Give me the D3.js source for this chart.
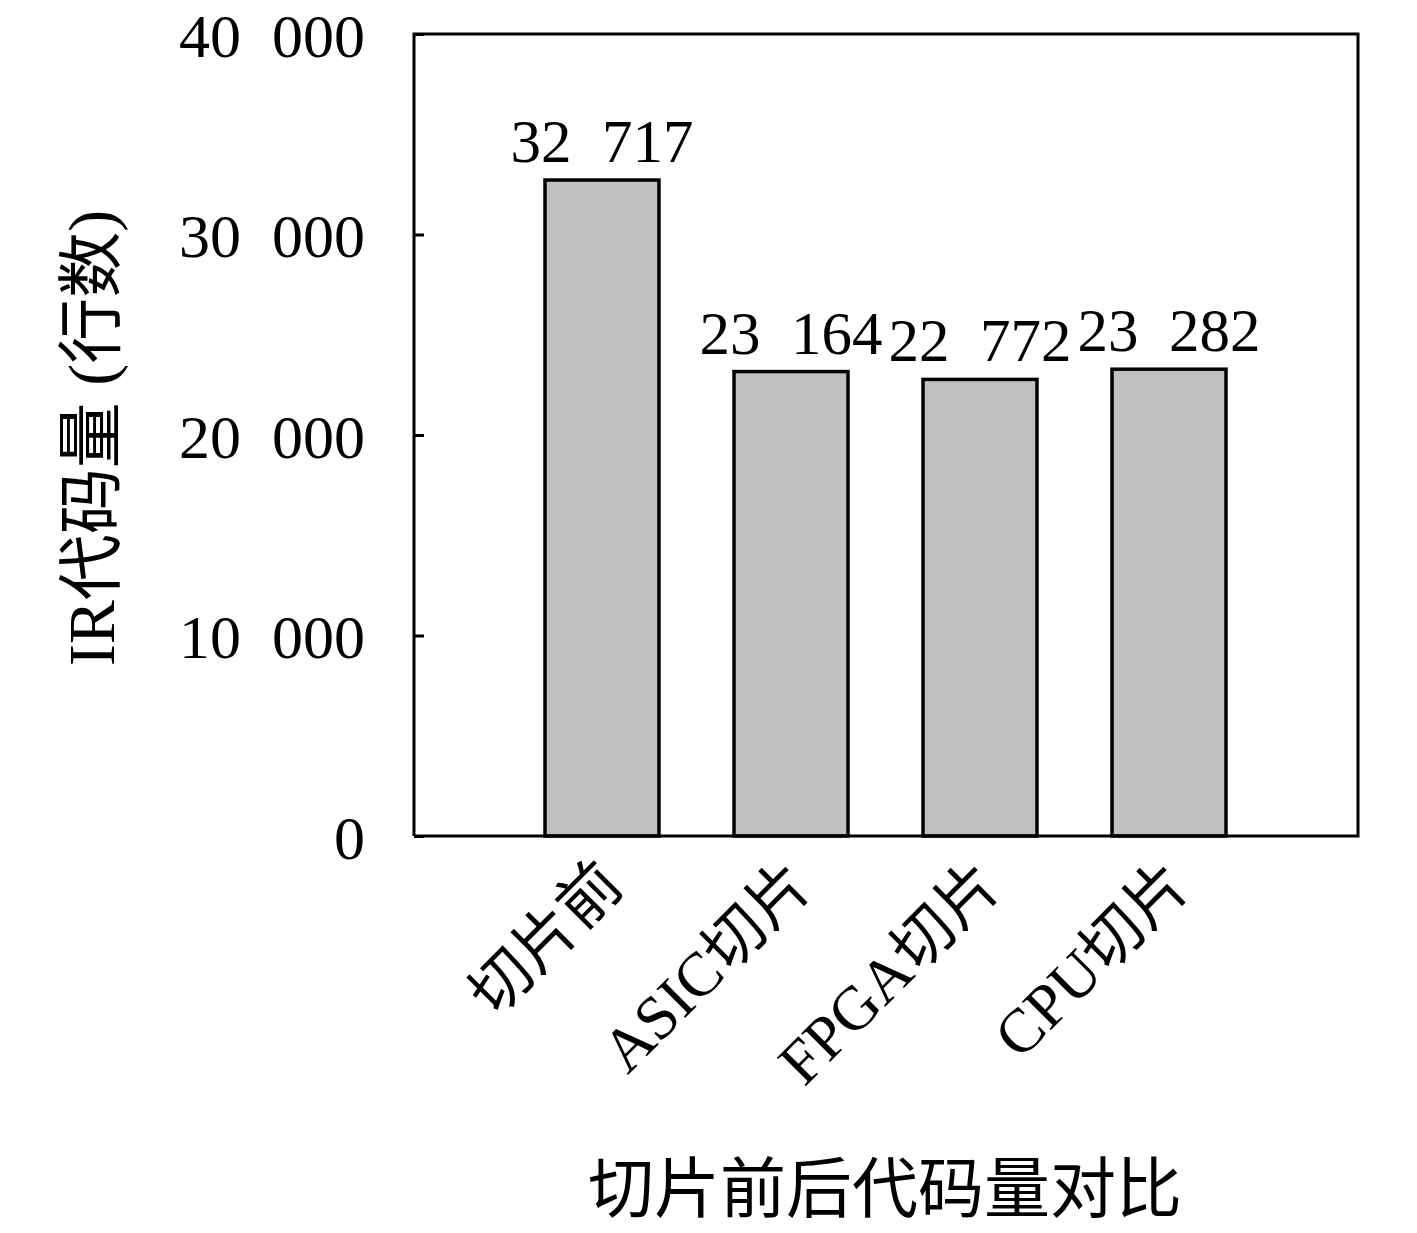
<!DOCTYPE html>
<html>
<head>
<meta charset="utf-8">
<script src="https://d3js.org/d3.v7.min.js"></script>
<style>
  body { margin: 0; background: #fff; }
  .num { font-family: "Liberation Serif", "DejaVu Serif", serif; }
  .cjk { font-family: "Noto Sans CJK SC", sans-serif; }
</style>
</head>
<body>
<svg class="target"></svg>
<script>

// data
categories = ['切片前', 'ASIC切片', 'FPGA切片', 'CPU切片']
values = [32717, 23164, 22772, 23282]
yTicks = [0, 10000, 20000, 30000, 40000]

width = 1417
height = 1233

margin = ({ top: 34, right: 59, bottom: 397, left: 414 })

svg = d3.select('.target')
      .attr('width', width)
      .attr('height', height)

// wide thousands separator like the original
fmt = v => {
  s = String(v)
  return s.length > 3 ? s.slice(0, -3) + '\u2002' + s.slice(-3) : s
}

x = d3.scaleBand()
    .domain(categories)
    .range([450.5, 1320.5])
    .paddingInner(0.397)
    .paddingOuter(0.5)

y = d3.scaleLinear()
    .domain([0, 40000])
    .range([height - margin.bottom, margin.top])

// bars
svg.selectAll('rect.bar')
  .data(values)
  .join('rect')
    .attr('class', 'bar')
    .attr('x', (d, i) => x(categories[i]))
    .attr('y', d => y(d))
    .attr('width', x.bandwidth())
    .attr('height', d => y(0) - y(d))
    .style('fill', '#c0c0c0')
    .style('stroke', '#000')
    .style('stroke-width', 3.5)

// value labels
svg.selectAll('text.val')
  .data(values)
  .join('text')
    .attr('class', 'val num')
    .attr('x', (d, i) => x(categories[i]) + x.bandwidth() / 2)
    .attr('y', d => y(d) - 18)
    .attr('text-anchor', 'middle')
    .style('font-size', '61px')
    .text(d => fmt(d))

// frame: left, top, right, bottom
x0 = margin.left, x1 = width - margin.right
svg.append('path')
    .attr('d', `M${x0},${y(0)}V${y(40000)}H${x1}V${y(0)}H${x0}`)
    .style('fill', 'none')
    .style('stroke', '#000')
    .style('stroke-width', 3)

// y axis ticks (inward) and labels
yAxis = d3.axisLeft(y)
    .tickValues(yTicks)
    .tickSize(-10)
    .tickPadding(49)
    .tickFormat(d => fmt(d))

gy = svg.append('g')
    .attr('transform', `translate(${x0},0)`)
    .call(yAxis)
gy.select('.domain').remove()
gy.selectAll('line').style('stroke', '#000').style('stroke-width', 3)
gy.selectAll('text')
    .attr('dy', '0.36em')
    .style('font-family', '"Liberation Serif", serif')
    .style('font-size', '62px')
    .style('fill', '#000')

// x tick labels, rotated
svg.selectAll('text.xl')
  .data(categories)
  .join('text')
    .attr('class', 'xl')
    .attr('text-anchor', 'end')
    .attr('transform', d => `translate(${x(d) + x.bandwidth() / 2 + 24},${y(0) + 52}) rotate(-45)`)
    .style('font-size', '62px')
    .each(function(d) {
      t = d3.select(this)
      parts = d.match(/[A-Za-z]+|[^A-Za-z]+/g)
      parts.forEach(p => {
        t.append('tspan')
          .attr('class', /[A-Za-z]/.test(p) ? 'num' : 'cjk')
          .text(p)
      })
    })

// y axis title
ylab = svg.append('text')
    .attr('transform', `translate(114,438) rotate(-90)`)
    .attr('text-anchor', 'middle')
    .style('font-size', '66px')
ylab.append('tspan').attr('class', 'num').text('IR')
ylab.append('tspan').attr('class', 'cjk').text('代码量')
ylab.append('tspan').attr('class', 'num').text(' (')
ylab.append('tspan').attr('class', 'cjk').text('行数')
ylab.append('tspan').attr('class', 'num').text(')')

// x axis title
svg.append('text')
    .attr('class', 'cjk')
    .attr('x', 885)
    .attr('y', 1212)
    .attr('text-anchor', 'middle')
    .style('font-size', '66px')
    .text('切片前后代码量对比')

</script>
</body>
</html>
